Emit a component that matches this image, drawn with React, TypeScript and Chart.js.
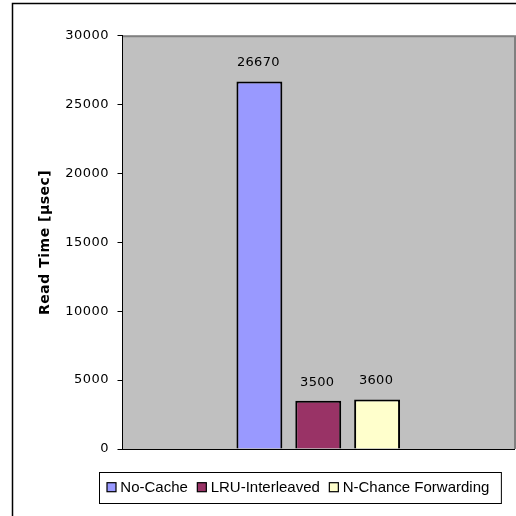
import React, { useEffect, useRef } from "react";
import { Chart, registerables } from "chart.js";

Chart.register(...registerables);

const categories = [""];
const seriesNames = ["No-Cache", "LRU-Interleaved", "N-Chance Forwarding"];
const noCache = [26670];
const lruInterleaved = [3500];
const nChance = [3600];
const seriesColors = ["#9999FF", "#993366", "#FFFFCC"];
const yTicks = [0, 5000, 10000, 15000, 20000, 25000, 30000];
const yTitle = "Read Time [µsec]";

const FONT = '"Liberation Sans", Arial, sans-serif';
const WIDE = '"DejaVu Sans", sans-serif';

const framePlugin = {
  id: "frame",
  beforeDraw(chart: any) {
    const { ctx, chartArea: a, width, height } = chart;
    ctx.save();
    // outer chart border (cropped at right and bottom)
    ctx.strokeStyle = "#000";
    ctx.lineWidth = 1.5;
    ctx.beginPath();
    ctx.moveTo(12.5, height);
    ctx.lineTo(12.5, 3.5);
    ctx.lineTo(width, 3.5);
    ctx.stroke();
    // plot area
    ctx.fillStyle = "#C0C0C0";
    ctx.fillRect(a.left, a.top, a.right - a.left, a.bottom - a.top);
    ctx.strokeStyle = "#808080";
    ctx.lineWidth = 2;
    ctx.beginPath();
    ctx.moveTo(a.left, a.top + 0.5);
    ctx.lineTo(a.right + 1, a.top + 0.5);
    ctx.lineTo(a.right + 1, a.bottom);
    ctx.stroke();
    ctx.restore();
    ctx.letterSpacing = "0.5px";
  },
  afterDatasetsDraw(chart: any) {
    const { ctx } = chart;
    ctx.save();
    ctx.letterSpacing = "0.3px";
    ctx.font = `13px ${WIDE}`;
    ctx.fillStyle = "#000";
    ctx.textAlign = "center";
    ctx.textBaseline = "middle";
    chart.data.datasets.forEach((ds: any, i: number) => {
      const meta = chart.getDatasetMeta(i);
      meta.data.forEach((el: any, j: number) => {
        ctx.fillText(String(ds.data[j]), el.x - 1, el.y - 18.5);
      });
    });
    ctx.restore();
  },
  afterDraw(chart: any) {
    const { ctx } = chart;
    ctx.save();
    ctx.letterSpacing = "0px";
    ctx.font = `15px ${FONT}`;
    const boxLeft = 99.5;
    const boxTop = 472.5;
    const boxH = 31;
    const padL = 7.5;
    const padR = 12;
    const sq = 9;
    const sqGap = 4.3;
    const itemGap = 9.5;
    const items = chart.data.datasets.map((ds: any) => ({
      label: ds.label,
      color: ds.backgroundColor,
      w: ctx.measureText(ds.label).width,
    }));
    let contentW = 0;
    items.forEach((it: any, i: number) => {
      contentW += sq + sqGap + it.w + (i < items.length - 1 ? itemGap : 0);
    });
    const boxW = padL + contentW + padR;
    ctx.fillStyle = "#fff";
    ctx.fillRect(boxLeft, boxTop, boxW, boxH);
    ctx.strokeStyle = "#000";
    ctx.lineWidth = 1;
    ctx.strokeRect(boxLeft, boxTop, boxW, boxH);
    let x = boxLeft + padL;
    const sqTop = 482.7;
    const baseline = 491.7;
    items.forEach((it: any) => {
      ctx.fillStyle = it.color;
      ctx.fillRect(x, sqTop, sq, sq);
      ctx.strokeStyle = "#000";
      ctx.lineWidth = 1.2;
      ctx.strokeRect(x, sqTop, sq, sq);
      x += sq + sqGap;
      ctx.fillStyle = "#000";
      ctx.textBaseline = "alphabetic";
      ctx.textAlign = "left";
      ctx.fillText(it.label, x, baseline);
      x += it.w + itemGap;
    });
    ctx.restore();
  },
};

export default function App() {
  const ref = useRef<HTMLCanvasElement>(null);
  useEffect(() => {
    if (!ref.current) return;
    const seriesData = [noCache, lruInterleaved, nChance];
    const chart = new Chart(ref.current, {
      type: "bar",
      data: {
        labels: categories,
        datasets: seriesNames.map((name, i) => ({
          label: name,
          data: seriesData[i],
          backgroundColor: seriesColors[i],
          borderColor: "#000",
          borderWidth: 2,
          categoryPercentage: 0.451,
          barPercentage: 0.78,
        })),
      },
      options: {
        responsive: false,
        animation: false,
        devicePixelRatio: 1,
        layout: { padding: { left: 33.3, top: 35.7, right: 2, bottom: 59 } },
        plugins: {
          legend: { display: false },
          tooltip: { enabled: false },
        },
        scales: {
          x: {
            type: "category",
            ticks: { display: false },
            grid: { display: false },
            border: { display: true, color: "#000", width: 1 },
          },
          y: {
            min: 0,
            max: 30000,
            afterBuildTicks: (scale: any) => {
              scale.ticks = yTicks.map((v) => ({ value: v }));
            },
            afterFit: (scale: any) => {
              scale.width = 89.2;
            },
            ticks: {
              color: "#000",
              padding: 8.5,
              font: { family: WIDE, size: 13 },
              callback: (v: any) => String(v),
            },
            grid: {
              display: true,
              drawOnChartArea: false,
              drawTicks: true,
              tickLength: 5,
              color: "#000",
            },
            border: { display: true, color: "#000", width: 1 },
            title: {
              display: true,
              text: yTitle,
              color: "#000",
              font: { family: WIDE, size: 14, weight: "bold" },
              padding: { top: 4, bottom: 4 },
            },
          },
        },
      },
      plugins: [framePlugin],
    });
    return () => chart.destroy();
  }, []);
  return (
    <div style={{ position: "fixed", left: 0, top: 0, width: 516, height: 516, background: "#fff" }}>
      <canvas ref={ref} width={516} height={516} style={{ display: "block" }} />
    </div>
  );
}
